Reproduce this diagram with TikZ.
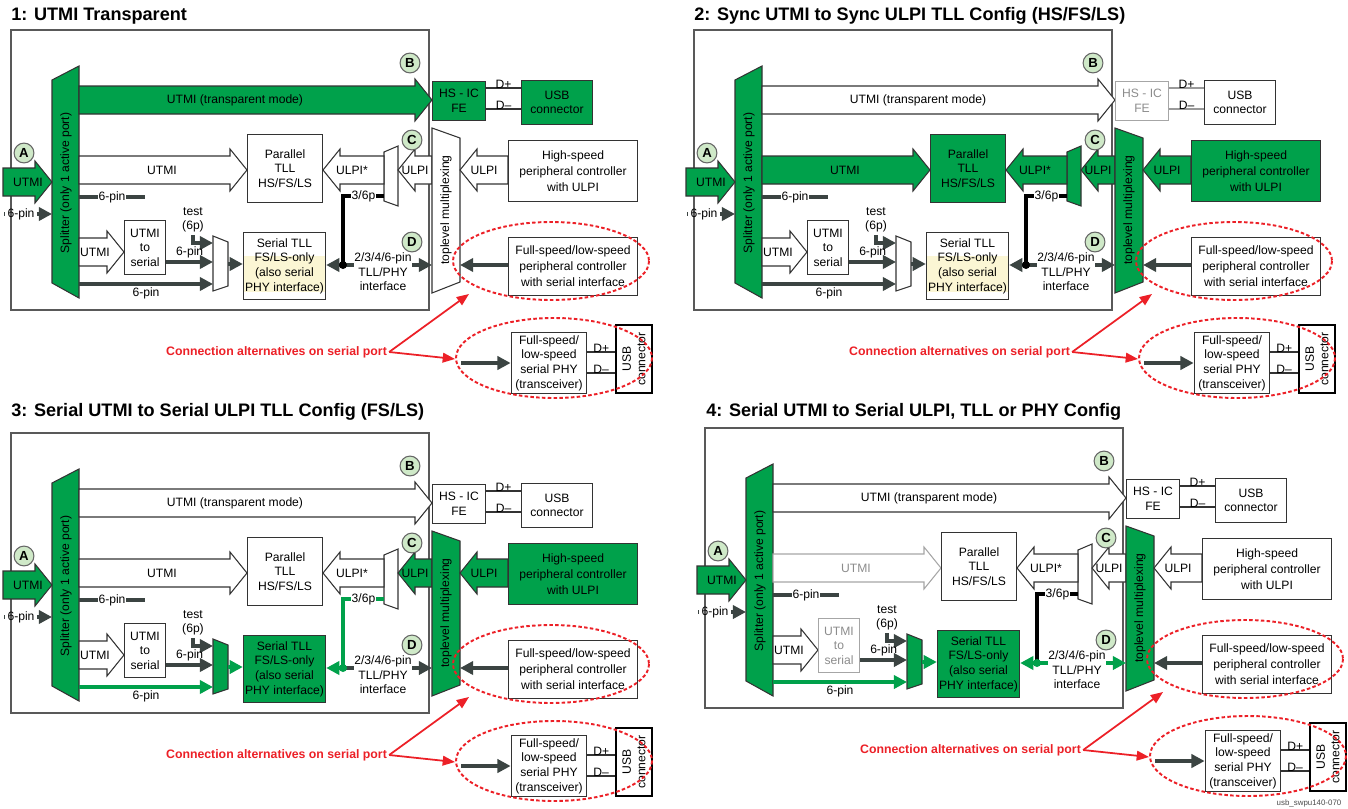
\documentclass[tikz,border=0pt]{standalone}
\usepackage{fontspec}
\setmainfont{Liberation Sans}
\usetikzlibrary{positioning, calc, arrows.meta}
\definecolor{usbgreen}{HTML}{00A14B}
\definecolor{lettergreen}{HTML}{CFE9C8}
\definecolor{pingrey}{HTML}{3B4442}
\definecolor{alertred}{HTML}{EC2027}
\definecolor{hiyellow}{HTML}{FBF6D4}

\newcommand\pxu{0.5669pt}
\newcommand\loose{\fontsize{6.9}{9.1}\selectfont}

% block arrow: [style]{name}{tail x}{tip x}{y}{label x}{label}
\newcommand\blockarrow[7][]{%
  \pgfmathsetmacro\headx{#4-17*sign(#4-#3)}%
  \draw[#1] (#3,#5-14) -- (\headx,#5-14) -- (\headx,#5-21) -- (#4,#5)
    -- (\headx,#5+21) -- (\headx,#5+14) -- (#3,#5+14) -- cycle;
  \node[#1, draw=none, fill=none] (#2) at (#6,#5) {#7};
}

\tikzset{
  on/.style={fill=usbgreen, draw=black!80},
  off/.style={fill=white, draw=black!80},
  dim/.style={fill=white, draw=black!35, text=black!45},
  box/.style={draw, align=center, inner sep=1pt},
  wh/.style 2 args={minimum width=#1*\pxu, minimum height=#2*\pxu},
  pin/.style={draw=pingrey, line width=2pt},
  gpin/.style={draw=usbgreen, line width=2pt},
  kpin/.style={draw=black, line width=2pt},
  pinhead/.style={-{Triangle[length=7.5pt, width=7.5pt]}},
  frame/.style={draw=black!65, line width=0.6pt},
  letter/.style={circle, draw=black!60, fill=lettergreen, minimum size=11.3pt,
    inner sep=0pt, font=\bfseries\fontsize{7.5}{8}\selectfont},
  title/.style={anchor=west, font=\bfseries\fontsize{10.3}{12}\selectfont},
  alert/.style={text=alertred, font=\bfseries\fontsize{7}{8}\selectfont},
  ring/.style={draw=alertred, line width=1.1pt, dash pattern=on 2pt off 1.3pt},
  redarrow/.style={draw=alertred, line width=1pt, -{Triangle[length=7pt, width=5.5pt]}},
  hilite/.style={path picture={\fill[hiyellow]
    ($(path picture bounding box.north west)+(0,24)$) rectangle
    ($(path picture bounding box.south east)+(0,-8)$);}},
  % per panel states
  transp_path/.style=off,
  fe_box/.style=off,
  fe_line/.style={draw=black!80},
  conn_box/.style=off,
  par_utmi/.style=off,
  par_box/.style=off,
  ulpis_path/.style=off,
  ulpic_path/.style=off,
  top_mux/.style=off,
  hs_path/.style=off,
  u2s_box/.style=off,
  stll_box/.style={off, hilite},
  ser_mux/.style=off,
  ser_out/.style=pin,
  pin_low/.style=pin,
  tll_l/.style=kpin,
  tll_dot/.style={fill=black},
  tll_left/.style=pin,
  tll_right/.style=pin
}

\newcommand\usbpanel{%
  \draw[frame] (11,30) rectangle (429,310);
  % splitter and inputs
  \draw[on] (52,80) -- (79,66) -- (79,298) -- (52,283) -- cycle;
  \node[rotate=90] (spl) at (66,183) {Splitter (only 1 active port)};
  \blockarrow[on]{utmiin}{3}{52}{182}{28}{UTMI}
  \node (pinin) at (21,214) {6-pin};
  \coordinate (pinstub) at (4,214);
  \coordinate (splin) at (52,214);
  \draw[pin] (pinstub) -- (pinin.west);
  \draw[pin, pinhead] (pinin.east) -- (splin);
  % transparent path
  \blockarrow[transp_path]{transp}{79}{432}{100}{235}{UTMI (transparent mode)}
  \node[box, fe_box, wh={54}{40}] (fe) at (459,101) {HS - IC\\FE};
  \node[box, conn_box, wh={72}{45}] (usbc) at (557,102.5) {USB\\connector};
  \path (fe.east) ++(0,-13) coordinate (dpa) (fe.east) ++(0,8) coordinate (dma);
  \draw[fe_line] (dpa) -- node[above=-1.5pt] {D+} (dpa -| usbc.west);
  \draw[fe_line] (dma) -- node[above=-1.5pt] {D–} (dma -| usbc.west);
  % parallel path
  \blockarrow[par_utmi]{utmipar}{79}{247}{170}{162}{UTMI}
  \node[box, par_box, wh={76}{69}] (ptll) at (285,168.5) {Parallel\\TLL\\HS/FS/LS};
  \coordinate (stuba) at (79,197);
  \coordinate (stubb) at (145,197);
  \draw[pin] (stuba) -- node[fill=white, inner sep=0.5pt] {6-pin} (stubb);
  \draw[ulpis_path] (384,152) -- (398,146) -- (398,206) -- (384,201) -- cycle;
  \blockarrow[ulpis_path]{ulpis}{384}{323}{170}{352}{ULPI*}
  \blockarrow[ulpic_path]{ulpic}{432}{398}{170}{415}{ULPI}
  \draw[top_mux] (432,128) -- (460,138) -- (460,282) -- (432,293) -- cycle;
  \node[rotate=90] (tlm) at (446,210) {toplevel multiplexing};
  \blockarrow[hs_path]{ulpihs}{508}{460}{170}{484}{ULPI}
  \node[box, hs_path, wh={130}{62}, font=\loose] (hsc) at (573,171)
    {High-speed\\peripheral controller\\with ULPI};
  % serial path
  \blockarrow[off]{utmiser}{79}{124}{252}{95}{UTMI}
  \node[box, u2s_box, wh={42}{55}] (u2s) at (145,247.5) {UTMI\\to\\serial};
  \node[box, stll_box, wh={81}{68}] (stll) at (284.5,266)
    {Serial TLL\\FS/LS-only\\(also serial\\PHY interface)};
  \draw[ser_mux] (213,236) -- (228,242) -- (228,286) -- (213,291) -- cycle;
  \coordinate (smt) at (213,243);
  \coordinate (smm) at (213,262);
  \coordinate (smb) at (213,284);
  \coordinate (smo) at (228,264);
  \coordinate (splb) at (79,284);
  \node (test) at (193,220) {test\\(6p)};
  \draw[pin, pinhead] (test.south) |- (smt);
  \draw[pin, pinhead] (u2s.east |- smm) -- node[above] {6-pin} (smm);
  \draw[pin_low, pinhead] (splb) -- node[below] {6-pin} (smb);
  \draw[ser_out, pinhead] (smo) -- (smo -| stll.west);
  % TLL/PHY interface
  \coordinate (jn) at (343,265);
  \coordinate (tlmin) at (432,265);
  \coordinate (umuxin) at (384,196);
  \draw[tll_l] (jn) |- node[pos=0.75, fill=white, inner sep=0.5pt] {3/6p} (umuxin);
  \draw[tll_left, pinhead] (jn) -- (jn -| stll.east);
  \draw[tll_right, pinhead] (jn) -- (tlmin);
  \fill[tll_dot] (jn) circle (4);
  \node[fill=white, inner sep=0pt] (tlllbl) at (383,272) {2/3/4/6-pin\\TLL/PHY\\interface};
  % serial port alternatives
  \node[box, off, wh={130}{59}, font=\loose] (fsls) at (573,266.5)
    {Full-speed/low-speed\\peripheral controller\\with serial interface};
  \coordinate (tlmout) at (460,265);
  \draw[pin, pinhead] (fsls.west |- tlmout) -- (tlmout);
  \draw[ring] (551,261) ellipse [x radius=98, y radius=39];
  \node[box, off, wh={76}{62}] (phy) at (549,363)
    {Full-speed/\\low-speed\\serial PHY\\(transceiver)};
  \node[box, rotate=90, wh={68}{36}, line width=1.2pt, draw=black] (usbv) at (634,359)
    {USB\\connector};
  \coordinate (phyin) at (461,363);
  \draw[pin, pinhead] (phyin) -- (phy.west);
  \path (phy.east) ++(0,-11) coordinate (dpb) (phy.east) ++(0,10) coordinate (dmb);
  \draw[draw=black!80] (dpb) -- node[above=-1.5pt] {D+} (dpb -| usbv.north);
  \draw[draw=black!80] (dmb) -- node[above=-1.5pt] {D–} (dmb -| usbv.north);
  \draw[ring] (554,358) ellipse [x radius=98, y radius=40];
  \node[alert] (alt) at (276.5,352) {Connection alternatives on serial port};
  \coordinate (ringa) at (469,294);
  \coordinate (ringb) at (455,359);
  \draw[redarrow] (alt.east) -- (ringa);
  \draw[redarrow] (alt.east) -- (ringb);
  % port letters
  \node[letter] (la) at (24,153) {A};
  \node[letter] (lb) at (410,63) {B};
  \node[letter] (lc) at (412,140) {C};
  \node[letter] (ld) at (412,242) {D};
}

\begin{document}
\begin{tikzpicture}[
    x=0.02cm, y=-0.02cm,
    line width=0.6pt,
    inner sep=1pt,
    align=center,
    font=\fontsize{6.9}{8.3}\selectfont
]
\useasboundingbox (0,0) rectangle (1348,808);

\node[title] (t1) at (9,16) {1: UTMI Transparent};
\node[title] (t2) at (692,16) {2: Sync UTMI to Sync ULPI TLL Config (HS/FS/LS)};
\node[title] (t3) at (9,412) {3: Serial UTMI to Serial ULPI TLL Config (FS/LS)};
\node[title] (t4) at (704,412) {4: Serial UTMI to Serial ULPI, TLL or PHY Config};

% 1: transparent
\begin{scope}[transp_path/.style=on, fe_box/.style=on, conn_box/.style=on]
  \usbpanel
\end{scope}

% 2: sync ULPI TLL
\begin{scope}[shift={(683,0)},
    fe_box/.style=dim, fe_line/.style={draw=black!40},
    par_utmi/.style=on, par_box/.style=on, ulpis_path/.style=on,
    ulpic_path/.style=on, top_mux/.style=on, hs_path/.style=on]
  \usbpanel
\end{scope}

% 3: serial ULPI TLL
\begin{scope}[shift={(0,403)},
    ulpic_path/.style=on, top_mux/.style=on, hs_path/.style=on,
    stll_box/.style=on, ser_mux/.style=on, ser_out/.style=gpin,
    pin_low/.style=gpin, tll_l/.style=gpin, tll_dot/.style={fill=usbgreen},
    tll_left/.style=gpin]
  \usbpanel
\end{scope}

% 4: serial ULPI, TLL or PHY
\begin{scope}[shift={(694,398)},
    par_utmi/.style=dim, u2s_box/.style=dim, top_mux/.style=on,
    stll_box/.style=on, ser_mux/.style=on, ser_out/.style=gpin,
    pin_low/.style=gpin, tll_dot/.style={fill=usbgreen},
    tll_left/.style=gpin, tll_right/.style=gpin]
  \usbpanel
\end{scope}

\node[text=black!70, font=\fontsize{4.5}{5}\selectfont] (stamp) at (1309,803) {usb\_swpu140-070};
\end{tikzpicture}
\end{document}
